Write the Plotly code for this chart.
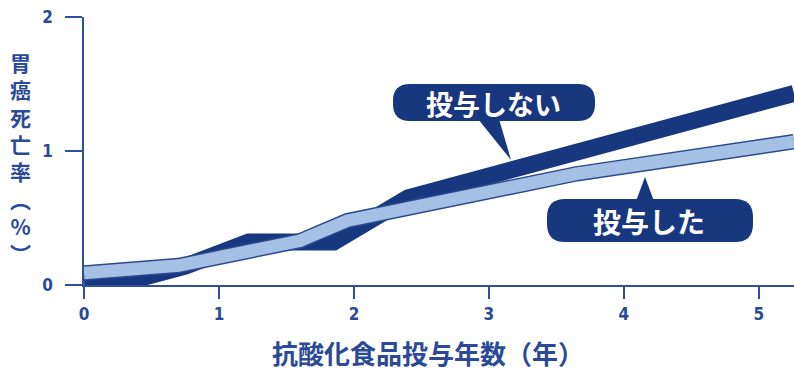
import plotly.graph_objects as go

# ---- data ----
years_untreated = [0, 0.45, 0.75, 1.22, 1.85, 2.4, 5.26]
rate_untreated = [0.04, 0.06, 0.14, 0.32, 0.32, 0.65, 1.43]
years_treated = [0, 0.7, 1.6, 1.95, 3.65, 5.26]
rate_treated = [0.09, 0.145, 0.33, 0.48, 0.83, 1.07]
x_ticks = [0, 1, 2, 3, 4, 5]
y_ticks = [0, 1, 2]
label_untreated = "投与しない"
label_treated = "投与した"
x_title = "抗酸化食品投与年数（年）"
y_title_chars = ["胃", "癌", "死", "亡", "率", "︵", "%", "︶"]

NAVY = "#17387f"
LIGHT = "#a5c0e5"
OUTLINE = "#2b4a8e"
AXIS_BLUE = "#2f4f9c"
TEXT_BLUE = "#2a4a98"

W, H = 794, 371
ML, MR, MT, MB = 84, 0, 17, 86
PW, PH = W - ML - MR, H - MT - MB


def X(p):
    return (p - ML) / PW


def Y(p):
    return (H - MB - p) / PH


def rounded_rect(x0, y0, x1, y1, r):
    pts = [
        f"M{X(x0 + r)},{Y(y0)}",
        f"L{X(x1 - r)},{Y(y0)}",
        f"Q{X(x1)},{Y(y0)} {X(x1)},{Y(y0 + r)}",
        f"L{X(x1)},{Y(y1 - r)}",
        f"Q{X(x1)},{Y(y1)} {X(x1 - r)},{Y(y1)}",
        f"L{X(x0 + r)},{Y(y1)}",
        f"Q{X(x0)},{Y(y1)} {X(x0)},{Y(y1 - r)}",
        f"L{X(x0)},{Y(y0 + r)}",
        f"Q{X(x0)},{Y(y0)} {X(x0 + r)},{Y(y0)}",
        "Z",
    ]
    return " ".join(pts)


def triangle(a, b, c):
    return f"M{X(a[0])},{Y(a[1])} L{X(b[0])},{Y(b[1])} L{X(c[0])},{Y(c[1])} Z"


fig = go.Figure()
fig.add_trace(go.Scatter(x=years_untreated, y=rate_untreated, mode="lines",
                         line=dict(color=NAVY, width=17), hoverinfo="skip",
                         showlegend=False))
fig.add_trace(go.Scatter(x=years_treated, y=rate_treated, mode="lines",
                         line=dict(color=OUTLINE, width=15.5), hoverinfo="skip",
                         showlegend=False))
fig.add_trace(go.Scatter(x=years_treated, y=rate_treated, mode="lines",
                         line=dict(color=LIGHT, width=12.5), hoverinfo="skip",
                         showlegend=False))

shapes = [
    dict(type="path", xref="paper", yref="paper", layer="above",
         path=rounded_rect(393, 84, 595, 121, 17), fillcolor=NAVY, line=dict(width=0)),
    dict(type="path", xref="paper", yref="paper", layer="above",
         path=triangle((478, 119), (511, 160), (499, 119)), fillcolor=NAVY, line=dict(width=0)),
    dict(type="path", xref="paper", yref="paper", layer="above",
         path=rounded_rect(547, 199, 753, 242, 18), fillcolor=NAVY, line=dict(width=0)),
    dict(type="path", xref="paper", yref="paper", layer="above",
         path=triangle((636, 201), (645, 177), (654, 201)), fillcolor=NAVY, line=dict(width=0)),
]

cjk = "Noto Sans CJK JP, Noto Sans CJK SC, sans-serif"
annotations = [
    dict(xref="paper", yref="paper", x=X(493), y=Y(103), text=f"<b>{label_untreated}</b>",
         showarrow=False, xanchor="center", yanchor="middle",
         font=dict(family=cjk, size=27, color="white")),
    dict(xref="paper", yref="paper", x=X(649), y=Y(221), text=f"<b>{label_treated}</b>",
         showarrow=False, xanchor="center", yanchor="middle",
         font=dict(family=cjk, size=28, color="white")),
    dict(xref="paper", yref="paper", x=X(428), y=Y(352), text=f"<b>{x_title}</b>",
         showarrow=False, xanchor="center", yanchor="middle",
         font=dict(family=cjk, size=26, color=TEXT_BLUE)),
    dict(xref="paper", yref="paper", x=X(21), y=Y(157),
         text="<b>" + "<br>".join(y_title_chars) + "</b>",
         showarrow=False, xanchor="center", yanchor="middle", align="center",
         font=dict(family=cjk, size=21, color=TEXT_BLUE)),
]

tick_font = dict(family="Liberation Sans Narrow, DejaVu Sans Condensed, Noto Sans Condensed, "
                        "Roboto Condensed, Open Sans Condensed, sans-serif",
                 size=17, color=TEXT_BLUE)

fig.update_layout(
    width=W, height=H,
    margin=dict(l=ML, r=MR, t=MT, b=MB, pad=0),
    paper_bgcolor="white", plot_bgcolor="white",
    shapes=shapes, annotations=annotations,
    xaxis=dict(range=[0, 5.26], tickvals=x_ticks, ticktext=[f"<b>{v}</b>" for v in x_ticks],
               showgrid=False, zeroline=False, showline=True, linecolor=AXIS_BLUE, linewidth=1.5,
               ticks="outside", ticklen=12, tickwidth=1.5, tickcolor=AXIS_BLUE,
               tickfont=tick_font, ticklabelstandoff=1, fixedrange=True),
    yaxis=dict(range=[0, 2], tickvals=y_ticks, ticktext=[f"<b>{v}</b>" for v in y_ticks],
               showgrid=False, zeroline=False, showline=True, linecolor=AXIS_BLUE, linewidth=1.5,
               ticks="outside", ticklen=17, tickwidth=1.5, tickcolor=AXIS_BLUE,
               tickfont=tick_font, ticklabelstandoff=9, fixedrange=True),
)

fig.write_html("out.html")
